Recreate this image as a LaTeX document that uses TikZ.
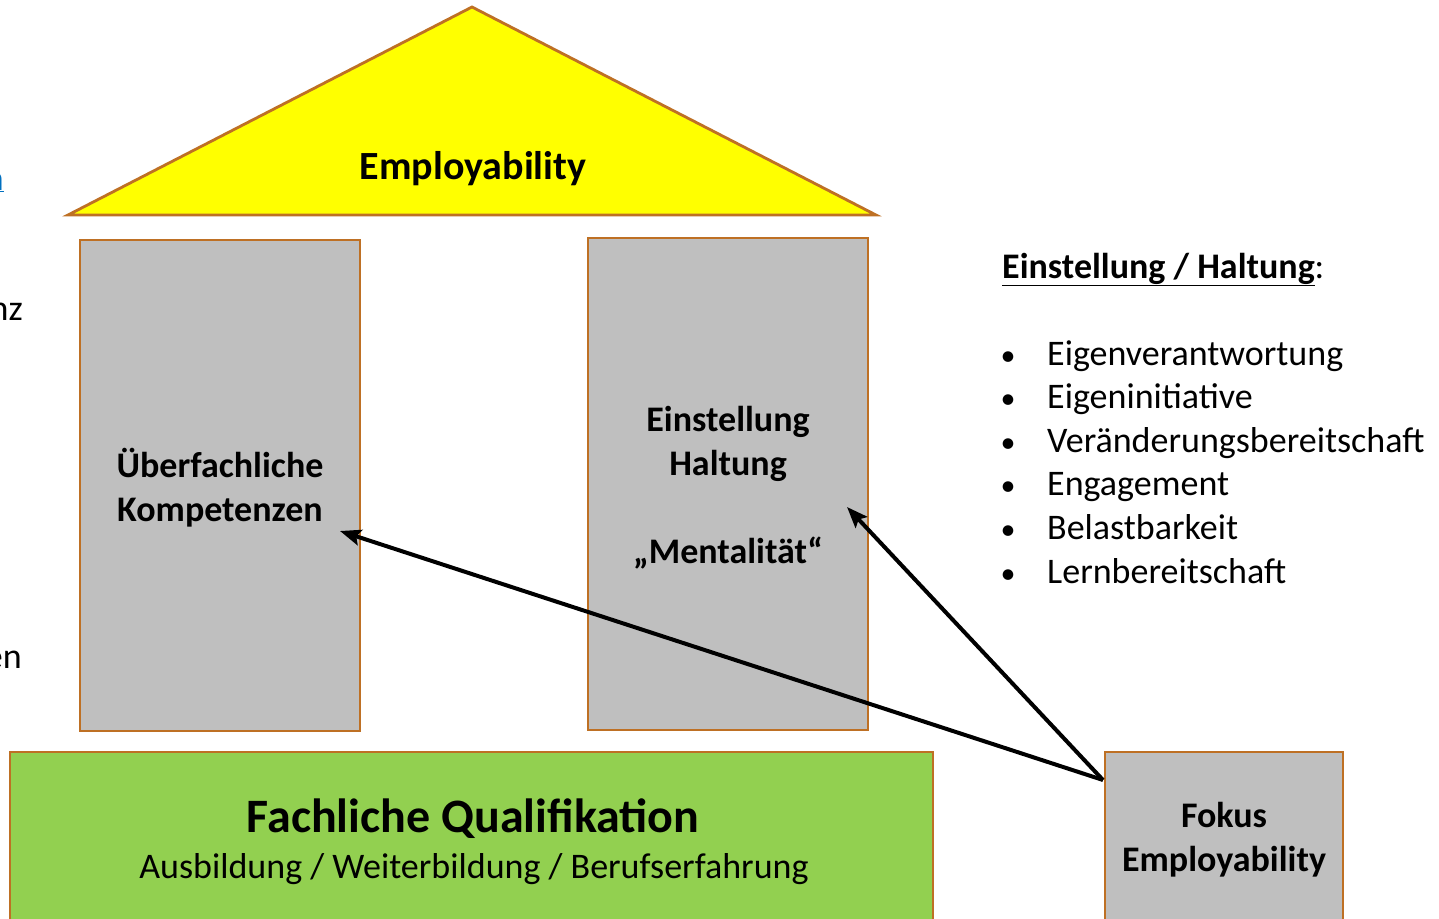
\documentclass[tikz,border=0pt]{standalone}
\usepackage{fontspec}
\setmainfont{Carlito}
\usetikzlibrary{arrows.meta,calc}
\definecolor{edgeorange}{RGB}{190,112,36}
\definecolor{roofyellow}{RGB}{255,255,0}
\definecolor{pillargray}{RGB}{191,191,191}
\definecolor{basegreen}{RGB}{146,208,80}
\definecolor{linkblue}{RGB}{0,112,192}
\newcommand{\fs}[1]{\fontsize{#1}{1.22\dimexpr#1pt\relax}\selectfont}
\tikzset{
  part/.style={draw=edgeorange, line width=2.8pt},
  label/.style={font=\fs{36}\bfseries, align=center, text=black},
  listitem/.style={font=\fs{36}, anchor=base west, inner sep=0pt},
  pointer/.style={line width=4pt, -{Stealth[length=21pt,width=16pt,inset=4pt]}},
}
\begin{document}
\begin{tikzpicture}[x=1pt,y=-1pt]
\useasboundingbox (0,0) rectangle (1439,918);
\clip (0,0) rectangle (1439,918);
\fill[white] (0,0) rectangle (1439,918);

% text running in from the left edge
\node[font=\fs{36}, text=linkblue, anchor=base east, inner sep=0pt] (leftA) at (4,190) {\underline{n}};
\node[font=\fs{36}, anchor=base east, inner sep=0pt] (leftB) at (23,320) {nz};
\node[font=\fs{36}, anchor=base east, inner sep=0pt] (leftC) at (22,668) {en};

% roof
\filldraw[part, fill=roofyellow] (472,7) -- (876,215) -- (68,215) -- cycle;
\node[font=\fs{40}\bfseries] (roof) at (473,169) {Employability};

% pillars
\filldraw[part, fill=pillargray] (80,240) rectangle (360,731);
\node[label] (left) at (220,488) {Überfachliche\\Kompetenzen};
\filldraw[part, fill=pillargray] (588,238) rectangle (868,730);
\node[label] (right) at (728,488) {Einstellung\\Haltung\\[44pt]„Mentalität“};

% foundation
\filldraw[part, fill=basegreen] (10,752) rectangle (933,940);
\node[font=\fs{48}\bfseries] (base) at (473,819) {Fachliche Qualifikation};
\node[font=\fs{36}] (basesub) at (474,869) {Ausbildung / Weiterbildung / Berufserfahrung};

% focus box
\filldraw[part, fill=pillargray] (1105,752) rectangle (1343,940);
\node[label] (fokus) at (1224,840) {Fokus\\Employability};

% list
\node[font=\fs{36}\bfseries, anchor=base west, inner sep=0pt] (head) at (1002,278) {\underline{Einstellung / Haltung}\mdseries:};
\foreach \t [count=\i] in {Eigenverantwortung,Eigeninitiative,Veränderungsbereitschaft,Engagement,Belastbarkeit,Lernbereitschaft} {
  \node[listitem] (item\i) at (1047,{354+43.6*(\i-1)+11}) {\t};
  \node[font=\fs{30}, anchor=base, inner sep=0pt] (bullet\i) at (1008,{354+43.6*(\i-1)+11}) {•};
}

% connectors
\coordinate (start) at (1103,780);
\coordinate (tipL) at (340,531);
\coordinate (tipR) at (847,507);
\draw[pointer] (start) -- (tipL);
\draw[pointer] (start) -- (tipR);
\end{tikzpicture}
\end{document}
